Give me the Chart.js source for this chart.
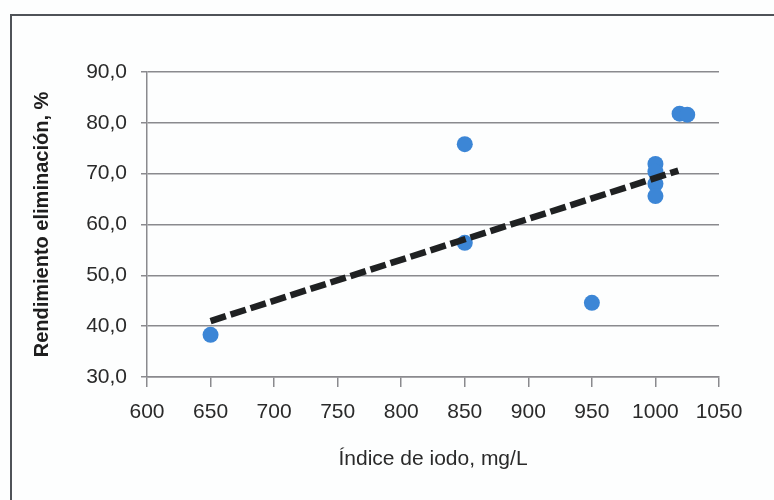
<!DOCTYPE html>
<html>
<head>
<meta charset="utf-8">
<script src="https://cdn.jsdelivr.net/npm/chart.js@4.4.1/dist/chart.umd.min.js"></script>
<style>
  html, body { margin: 0; padding: 0; background: #ffffff; }
  #wrap { position: relative; width: 774px; height: 500px; overflow: hidden; background: #fdfefe; }
  #frame { position: absolute; left: 10px; top: 14px; width: 800px; height: 520px;
           border-top: 2px solid #4f5358; border-left: 2px solid #4f5358; box-sizing: border-box; }
  #c { position: absolute; left: 0; top: 0; }
</style>
</head>
<body>
<div id="wrap">
  <div id="frame"></div>
  <canvas id="c" width="774" height="500"></canvas>
</div>
<script>
// Data
const iodineIndex = [650, 850, 850, 950, 1000, 1000, 1000, 1000, 1019, 1025];
const removalYield = [38.3, 75.8, 56.4, 44.6, 71.9, 70.4, 68.0, 65.6, 81.8, 81.6];
const trendX = [650, 1018];
const trendY = [41.0, 70.6];
const xTicks = [600, 650, 700, 750, 800, 850, 900, 950, 1000, 1050];
const yTicks = [30, 40, 50, 60, 70, 80, 90];
const xTitle = 'Índice de iodo, mg/L';
const yTitle = 'Rendimiento eliminación, %';

const points = iodineIndex.map((x, i) => ({ x: x, y: removalYield[i] }));
const trend = trendX.map((x, i) => ({ x: x, y: trendY[i] }));

const FONT = "'Liberation Sans', Arial, sans-serif";

new Chart(document.getElementById('c'), {
  type: 'scatter',
  data: {
    datasets: [
      {
        type: 'line',
        data: trend,
        borderColor: '#1f2122',
        borderWidth: 6.5,
        borderDash: [16, 5],
        pointRadius: 0,
        fill: false,
        order: 0
      },
      {
        data: points,
        backgroundColor: '#3c86d6',
        borderColor: '#3c86d6',
        pointRadius: 8,
        borderWidth: 0,
        order: 1
      }
    ]
  },
  options: {
    responsive: false,
    animation: false,
    events: [],
    layout: { padding: { top: 72, right: 55, left: 0, bottom: 0 } },
    plugins: { legend: { display: false }, tooltip: { enabled: false } },
    scales: {
      x: {
        type: 'linear',
        min: xTicks[0],
        max: xTicks[xTicks.length - 1],
        afterBuildTicks: (s) => { s.ticks = xTicks.map(v => ({ value: v })); },
        afterFit: (s) => { s.height = 123; },
        border: { display: true, color: '#8a8a8e', width: 1.5 },
        grid: { drawOnChartArea: false, drawTicks: true, tickLength: 10, color: '#8a8a8e', lineWidth: 1.5 },
        ticks: { color: '#2a2a2a', font: { family: FONT, size: 21 }, padding: 13, maxRotation: 0,
                 callback: (v) => String(v) },
        title: { display: true, text: xTitle, color: '#2a2a2a', font: { family: FONT, size: 21 },
                 padding: { top: 0, bottom: 28 } }
      },
      y: {
        type: 'linear',
        min: yTicks[0],
        max: yTicks[yTicks.length - 1],
        afterBuildTicks: (s) => { s.ticks = yTicks.map(v => ({ value: v })); },
        afterFit: (s) => { s.width = 147; },
        border: { display: true, color: '#8a8a8e', width: 1.5 },
        grid: { drawOnChartArea: true, drawTicks: true, tickLength: 6, color: '#8a8a8e', lineWidth: 1.5 },
        ticks: { color: '#2a2a2a', font: { family: FONT, size: 21 }, padding: 14,
                 callback: (v) => v.toFixed(1).replace('.', ',') },
        title: { display: true, text: yTitle, color: '#1e1e1e', font: { family: FONT, size: 20, weight: 'bold' },
                 padding: { top: 30, bottom: 0 } }
      }
    }
  }
});
</script>
</body>
</html>
